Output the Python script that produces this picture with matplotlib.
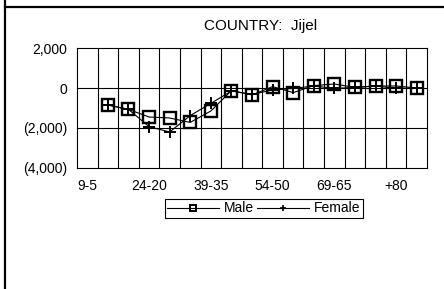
import numpy as np
import matplotlib
matplotlib.use("Agg")
import matplotlib.pyplot as plt
from matplotlib.lines import Line2D
from matplotlib.ticker import FuncFormatter

plt.rcParams['font.family'] = ['Liberation Sans', 'DejaVu Sans']

# category slots along the axis (labels shown every third slot)
tick_slots = [0, 3, 6, 9, 12, 15]
tick_labels = ["9-5", "24-20", "39-35", "54-50", "69-65", "+80"]
n_slots = 17
data_slots = list(range(1, 17))

male = [-850, -1070, -1450, -1500, -1720, -1150, -130, -350,
        70, -230, 120, 200, 30, 100, 100, 0]
female = [-850, -1070, -1930, -2200, -1380, -770, -150, -320,
          -100, -20, 100, -20, 30, 100, -20, 0]

W, H = 444, 289
fig = plt.figure(figsize=(W / 100, H / 100), dpi=100)
ax = fig.add_axes([77 / W, 1 - 168 / H, 350 / W, 120 / H])

x = np.array(data_slots) + 0.5
ax.plot(x, male, color='black', lw=0.8, marker='s', ms=9, mfc='none',
        mec='black', mew=1.7, zorder=3)
ax.plot(x, female, color='black', lw=0.8, marker='+', ms=9,
        mew=1.4, zorder=4)

ax.set_xlim(0, n_slots)
ax.set_ylim(-4000, 2000)
ax.set_yticks([-4000, -2000, 0, 2000])


def fmt(v, pos):
    if v < 0:
        return "({:,.0f})".format(-v)
    return "{:,.0f}".format(v)


ax.yaxis.set_major_formatter(FuncFormatter(fmt))
ax.set_xticks(np.array(tick_slots) + 0.5)
ax.set_xticklabels(tick_labels)
ax.tick_params(length=0, labelsize=10, pad=7)
ax.tick_params(axis='x', pad=8)
for k in range(1, n_slots):
    ax.axvline(k, color='black', lw=0.8, zorder=1)
for v in [-2000, 0]:
    ax.axhline(v, color='black', lw=0.8, zorder=1)
for s in ax.spines.values():
    s.set_linewidth(0.8)

fig.text(261 / W, 1 - 26 / H, "COUNTRY:  Jijel", ha='center', va='center',
         fontsize=11)

handles = [Line2D([], [], color='black', lw=0.8, marker='s', ms=5,
                  mfc='none', mec='black', mew=1.4),
           Line2D([], [], color='black', lw=0.8, marker='+', ms=5, mew=1.2)]
leg = fig.legend(handles, ["Male", "Female"], ncol=2, fontsize=10,
                 loc='center', bbox_to_anchor=(264 / W, 1 - 208.5 / H),
                 fancybox=False, framealpha=1, edgecolor='black',
                 handlelength=3.7, handletextpad=0.4, columnspacing=0.2,
                 borderpad=0.15, borderaxespad=0)
leg.get_frame().set_linewidth(0.8)

# outer chart border (top and left)
fig.add_artist(Line2D([5 / W, 1], [1 - 6.5 / H, 1 - 6.5 / H], color='black',
                      lw=1.6, transform=fig.transFigure))
fig.add_artist(Line2D([5 / W, 5 / W], [0, 1], color='black', lw=1.6,
                      transform=fig.transFigure))

fig.savefig("out.png", dpi=100)
